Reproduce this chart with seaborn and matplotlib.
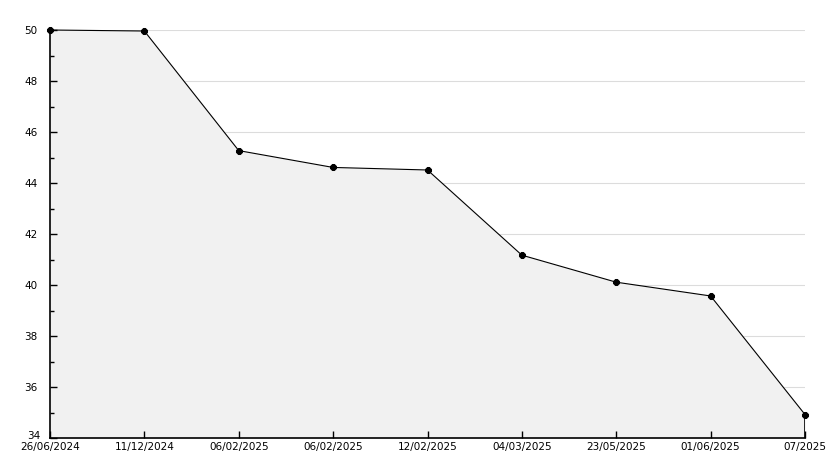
import matplotlib
matplotlib.use("Agg")
import matplotlib.pyplot as plt
import numpy as np
import pandas as pd
import seaborn as sns
from matplotlib.ticker import MultipleLocator

# ----------------------------------------------------------------
# data
# ----------------------------------------------------------------
dates  = ["26/06/2024", "11/12/2024", "06/02/2025", "06/02/2025", "12/02/2025",
          "04/03/2025", "23/05/2025", "01/06/2025", "07/2025"]
values = [50.0, 49.96, 45.27, 44.61, 44.51, 41.17, 40.11, 39.57, 34.92]
y_ticks = [34, 36, 38, 40, 42, 44, 46, 48, 50]

FILL = "#f1f1f1"
GRID = "#dcdcdc"
INK  = "#000000"

sns.set_theme(style="white")
plt.rcParams["font.family"] = ["DejaVu Sans"]
plt.rcParams["text.color"] = INK
plt.rcParams["xtick.color"] = INK
plt.rcParams["ytick.color"] = INK

df = pd.DataFrame({"pos": np.arange(len(dates)), "value": values})

fig = plt.figure(figsize=(8.34, 4.68), dpi=100)
ax = fig.add_axes([50 / 834, 30 / 468, 755 / 834, 408 / 468])
ax.set_axisbelow(False)

# grid drawn first so the area fill sits on top of it
for lvl in y_ticks[1:]:
    ax.axhline(lvl, color=GRID, linewidth=0.8, zorder=0.5)
ax.fill_between(df["pos"], df["value"], y_ticks[0], color=FILL, zorder=1, linewidth=0)
ax.vlines(df["pos"].iloc[-1], y_ticks[0], df["value"].iloc[-1], color=INK, linewidth=1.2, zorder=2)
sns.lineplot(data=df, x="pos", y="value", ax=ax, color=INK, linewidth=0.8,
             marker="8", markersize=5, markeredgecolor=INK, zorder=3, clip_on=False)

ax.set_xlim(0, len(dates) - 1)
ax.set_ylim(y_ticks[0], y_ticks[-1])
ax.set_xticks(df["pos"])
ax.set_xticklabels(dates)
ax.set_yticks(y_ticks)
ax.set_yticklabels([""] + [str(t) for t in y_ticks[1:]])
ax.yaxis.set_minor_locator(MultipleLocator(1))

# the lowest y label sits a bit higher than its tick, as in the reference
ax.annotate(str(y_ticks[0]), xy=(0, y_ticks[0]), xycoords=("axes fraction", "data"),
            xytext=(-7, -2), textcoords="offset points", ha="right", va="bottom",
            fontsize=7.5, color=INK)

ax.tick_params(axis="y", which="major", direction="in", length=5, width=1,
               color=INK, labelcolor=INK, labelsize=7.5, pad=9, left=True)
ax.tick_params(axis="y", which="minor", direction="in", length=3, width=1,
               color=INK, left=True)
ax.tick_params(axis="x", direction="in", length=5, width=1, color=INK,
               labelcolor=INK, labelsize=7.5, pad=3, bottom=True)

for side in ["top", "right"]:
    ax.spines[side].set_visible(False)
for side in ["left", "bottom"]:
    ax.spines[side].set_color(INK)
    ax.spines[side].set_linewidth(1.2)

ax.set_xlabel("")
ax.set_ylabel("")

fig.savefig("out.png", dpi=100, facecolor="white")
